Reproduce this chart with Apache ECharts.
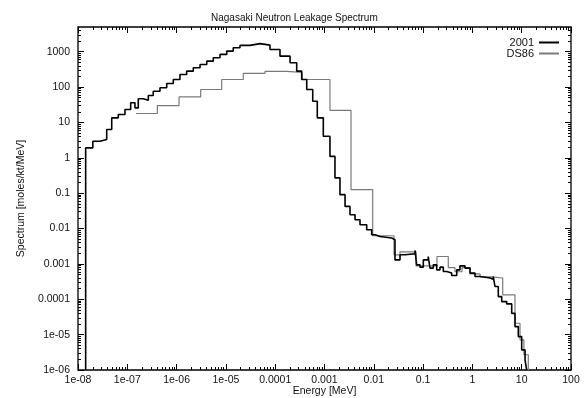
<!DOCTYPE html>
<html>
<head>
<meta charset="utf-8">
<script src="https://cdn.jsdelivr.net/npm/echarts@6/dist/echarts.min.js"></script>
<style>
html,body{margin:0;padding:0;background:#fff;}
#chart{width:587px;height:398px;}
</style>
</head>
<body>
<div id="chart"></div>
<script>
// ---- data ----
const energy2001 = [1.43e-8, 1.43e-8, 2.0e-8, 2.79e-8, 3.82e-8, 4.83e-8, 6.56e-8, 8.97e-8, 1.17e-7, 1.43e-7, 1.67e-7, 2.11e-7, 2.67e-7, 3.36e-7, 4.6e-7, 6.3e-7, 8.57e-7, 1.17e-6, 1.6e-6, 2.18e-6, 2.99e-6, 4.09e-6, 5.55e-6, 7.59e-6, 1.04e-5, 1.41e-5, 1.93e-5, 3.08e-5, 4.92e-5, 7.85e-5, 1.25e-4, 2.0e-4, 2.73e-4, 3.45e-4, 4.36e-4, 5.77e-4, 7.14e-4, 9.46e-4, 1.29e-3, 1.63e-3, 2.06e-3, 2.61e-3, 3.29e-3, 4.16e-3, 5.25e-3, 7.18e-3, 9.06e-3, 1.06e-2, 1.34e-2, 2.31e-2, 2.69e-2, 3.4e-2, 4.3e-2, 6.86e-2, 7.41e-2, 8.65e-2, 0.101, 0.127, 0.138, 0.161, 0.189, 0.22, 0.257, 0.301, 0.38, 0.481, 0.56, 0.708, 0.894, 1.13, 1.43, 2.28, 2.65, 2.87, 3.35, 3.93, 4.96, 6.27, 7.31, 8.53, 10, 11.7, 12.6];
const spectrum2001 = [1e-6, 1.91, 2.94, 3.28, 6.3, 13.5, 16.7, 23.2, 35.9, 25.9, 46.6, 42.6, 57.8, 76.6, 95.5, 126, 164, 228, 282, 352, 437, 542, 676, 839, 1040, 1300, 1510, 1690, 1540, 1160, 750, 488, 282, 164, 85.5, 39.9, 13.5, 4.06, 1.1, 0.27, 0.091, 0.0423, 0.0246, 0.0177, 0.0128, 0.00925, 0.00667, 0.00597, 0.00538, 0.00482, 0.0013, 0.00181, 0.00193, 0.0024, 0.00094, 0.00081, 0.0013, 0.00162, 0.00076, 0.00094, 0.00068, 0.00081, 0.00061, 0.00055, 0.00047, 0.00068, 0.00088, 0.00076, 0.00055, 0.00044, 0.0004, 0.00037, 0.00044, 0.00023, 0.000119, 8.6e-5, 7.4e-5, 4.0e-5, 1.69e-5, 8.8e-6, 3.7e-6, 1.9e-6, 1e-6];

const energyDS86 = [1.5e-7, 4.07e-7, 1.12e-6, 3.08e-6, 8.22e-6, 2.25e-5, 6.2e-5, 1.68e-4, 3.5e-4, 1.29e-3, 3.45e-3, 9.5e-3, 2.57e-2, 3.4e-2, 7.18e-2, 0.191, 0.324, 0.443, 0.615, 0.894, 1.43, 2.46, 4.12, 7.31, 9.24, 11.1, 13.6];
const spectrumDS86 = [17.9, 30, 52.6, 85.5, 164, 243, 277, 259, 164, 22, 0.126, 0.00625, 0.00181, 0.0022, 0.00088, 0.00162, 0.00078, 0.0006, 0.00078, 0.00052, 0.00043, 0.0004, 0.000133, 2.1e-5, 7.1e-6, 2.7e-6, 1e-6];

const seriesNames = ['2001', 'DS86'];
const xTickValues = [1e-8, 1e-7, 1e-6, 1e-5, 1e-4, 1e-3, 1e-2, 0.1, 1, 10, 100];
const xTickLabels = ['1e-08','1e-07','1e-06','1e-05','0.0001','0.001','0.01','0.1','1','10','100'];
const yTickValues = [1e-6, 1e-5, 1e-4, 1e-3, 1e-2, 0.1, 1, 10, 100, 1000];
const yTickLabels = ['1e-06','1e-05','0.0001','0.001','0.01','0.1','1','10','100','1000'];
const yMax = 5000;

// ---- minor tick positions (2..9 x decade) ----
function minorTicks(decades, maxV) {
  const out = [];
  decades.forEach(d => {
    for (let m = 2; m <= 9; m++) {
      const v = parseFloat((m * d).toPrecision(6));
      if (v < maxV) out.push(v);
    }
  });
  return out;
}
const xMinor = minorTicks(xTickValues.slice(0, -1), xTickValues[xTickValues.length - 1]);
const yMinor = minorTicks(yTickValues, yMax);

const FONT = 'Liberation Sans, Arial, Helvetica, sans-serif';
const xMin = xTickValues[0], xMax = xTickValues[xTickValues.length - 1], yMin = yTickValues[0];

function labelFor(values, labels) {
  return v => {
    let best = 0, bd = Infinity;
    values.forEach((t, i) => { const d = Math.abs(Math.log10(v) - Math.log10(t)); if (d < bd) { bd = d; best = i; } });
    return labels[best];
  };
}

function mkAxis(kind, pos, major, opts) {
  const base = kind === 'x'
    ? { min: xMin, max: xMax }
    : { min: yMin, max: yMax };
  const vals = kind === 'x' ? (major ? xTickValues : xMinor) : (major ? yTickValues : yMinor);
  return Object.assign({
    type: 'log', logBase: 10, position: pos,
    axisLine: { show: false }, splitLine: { show: false },
    axisTick: { show: true, inside: true, length: major ? 6 : 3, customValues: vals, lineStyle: { color: '#000', width: 1 } },
    axisLabel: { show: false }
  }, base, opts || {});
}

const chart = echarts.init(document.getElementById('chart'), null, { renderer: 'canvas' });
chart.setOption({
  animation: false,
  backgroundColor: '#fff',
  title: {
    text: 'Nagasaki Neutron Leakage Spectrum',
    left: 206, top: 8,
    textStyle: { fontFamily: FONT, fontSize: 10, fontWeight: 'normal', color: '#111' }
  },
  legend: {
    orient: 'vertical', right: 23, top: 32, align: 'right',
    itemWidth: 20, itemHeight: 2, itemGap: 0,
    icon: 'rect',
    textStyle: { fontFamily: FONT, fontSize: 11, color: '#111', lineHeight: 10 },
    data: seriesNames
  },
  grid: { left: 78, right: 16, top: 27, bottom: 28, outerBoundsMode: 'none', show: true, borderColor: '#000', borderWidth: 1.3 },
  xAxis: [
    mkAxis('x', 'bottom', true, {
      axisLabel: {
        show: true, margin: 5, color: '#111', fontFamily: FONT, fontSize: 10.5,
        customValues: xTickValues, formatter: labelFor(xTickValues, xTickLabels)
      },
      name: 'Energy [MeV]', nameLocation: 'middle', nameGap: 16, nameMoveOverlap: false,
      nameTextStyle: { fontFamily: FONT, fontSize: 10.5, color: '#111', verticalAlign: 'top' }
    }),
    mkAxis('x', 'bottom', false),
    mkAxis('x', 'top', true),
    mkAxis('x', 'top', false)
  ],
  yAxis: [
    mkAxis('y', 'left', true, {
      axisLabel: {
        show: true, margin: 8, color: '#111', fontFamily: FONT, fontSize: 10.5,
        customValues: yTickValues, formatter: labelFor(yTickValues, yTickLabels)
      },
      name: 'Spectrum [moles/kt/MeV]', nameLocation: 'middle', nameGap: 51, nameMoveOverlap: false,
      nameTextStyle: { fontFamily: FONT, fontSize: 10.5, color: '#111' }
    }),
    mkAxis('y', 'left', false),
    mkAxis('y', 'right', true),
    mkAxis('y', 'right', false)
  ],
  series: [
    {
      name: seriesNames[0], type: 'line', step: 'end', showSymbol: false, symbol: 'none',
      xAxisIndex: 0, yAxisIndex: 0,
      data: energy2001.map((e, i) => [e, spectrum2001[i]]),
      lineStyle: { color: '#000', width: 1.6 }, itemStyle: { color: '#000' }, z: 3
    },
    {
      name: seriesNames[1], type: 'line', step: 'end', showSymbol: false, symbol: 'none',
      xAxisIndex: 0, yAxisIndex: 0,
      data: energyDS86.map((e, i) => [e, spectrumDS86[i]]),
      lineStyle: { color: '#7a7a7a', width: 1.2 }, itemStyle: { color: '#7a7a7a' }, z: 2
    }
  ]
});
</script>
</body>
</html>
